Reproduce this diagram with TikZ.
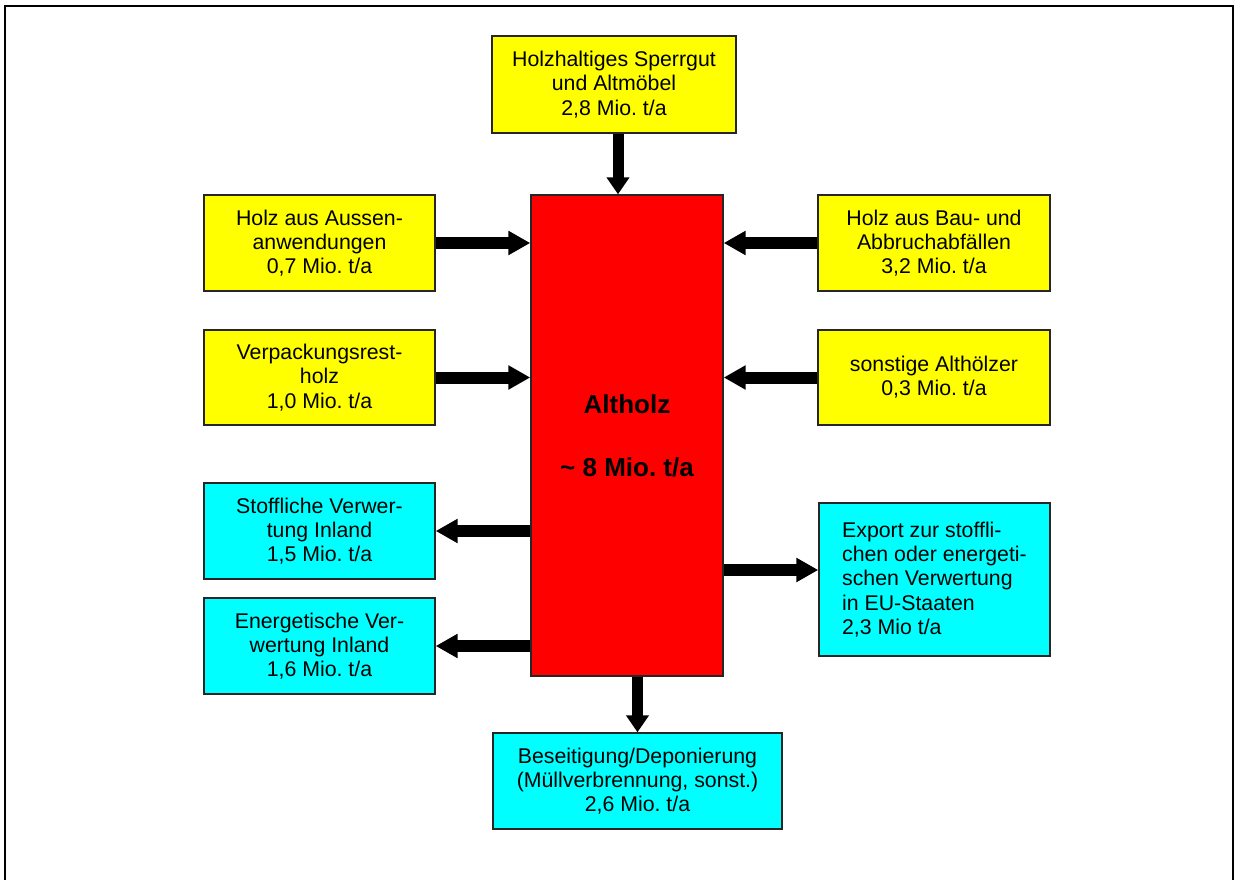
\documentclass[tikz,border=0pt]{standalone}
\usepackage{fontspec}
\setmainfont[Ligatures={NoCommon}]{Liberation Sans}
\frenchspacing
\usetikzlibrary{arrows.meta,calc}
\definecolor{boxyellow}{RGB}{255,255,0}
\definecolor{boxcyan}{RGB}{0,255,255}
\definecolor{boxred}{RGB}{255,0,0}
\tikzset{
  box/.style={draw=black!85, line width=1.4pt, inner sep=0pt, align=center,
    font=\fontsize{21.3}{24.2}\selectfont},
  inbox/.style={box, fill=boxyellow},
  outbox/.style={box, fill=boxcyan},
  flow/.style={line width=12pt, -{Triangle[length=22pt,width=23pt]}},
  flowv/.style={line width=11pt, -{Triangle[length=17pt,width=22pt]}}
}
\begin{document}
\begin{tikzpicture}[x=1pt,y=-1pt]
\useasboundingbox (0,0) rectangle (1235,880);
% outer frame (bottom edge outside the picture)
\draw[line width=2pt] (5,890) -- (5,6) -- (1233,6) -- (1233,890);

\node[box, fill=boxred, minimum width=192, minimum height=481,
      font=\fontsize{26}{31.5}\selectfont\bfseries] (red) at (627,435.5)
      {Altholz\\[31.5pt]\textasciitilde{} 8 Mio. t/a};

\node[inbox, minimum width=244, minimum height=97] (top) at (614,84.5)
  {Holzhaltiges Sperrgut\\und Altmöbel\\2,8 Mio. t/a};
\node[inbox, minimum width=231, minimum height=96] (l1) at (319.5,243)
  {Holz aus Aussen-\\anwendungen\\0,7 Mio. t/a};
\node[inbox, minimum width=231, minimum height=95] (l2) at (319.5,377.5)
  {Verpackungsrest-\\holz\\1,0 Mio. t/a};
\node[inbox, minimum width=232, minimum height=96] (r1) at (934,243)
  {Holz aus Bau- und\\Abbruchabfällen\\3,2 Mio. t/a};
\node[inbox, minimum width=232, minimum height=95] (r2) at (934,377.5)
  {sonstige Althölzer\\0,3 Mio. t/a};

\node[outbox, minimum width=231, minimum height=96] (c1) at (319.5,531)
  {Stoffliche Verwer-\\tung Inland\\1,5 Mio. t/a};
\node[outbox, minimum width=231, minimum height=96] (c2) at (319.5,646)
  {Energetische Ver-\\wertung Inland\\1,6 Mio. t/a};
\node[outbox, minimum width=231, minimum height=153, align=left] (rc) at (934.5,579.5)
  {Export zur stoffli-\\chen oder energeti-\\schen Verwertung\\in EU-Staaten\\2,3 Mio t/a};
\node[outbox, minimum width=289, minimum height=96] (bot) at (637.5,781)
  {Beseitigung/Deponierung\\(Müllverbrennung, sonst.)\\2,6 Mio. t/a};

\coordinate (topout) at ($(top.south)+(4,0)$);
\coordinate (rcin) at (rc.west |- 0,570);

% inputs
\draw[flowv] (topout) -- (topout |- red.north);
\draw[flow] (l1.east) -- (l1.east -| red.west);
\draw[flow] (l2.east) -- (l2.east -| red.west);
\draw[flow] (r1.west) -- (r1.west -| red.east);
\draw[flow] (r2.west) -- (r2.west -| red.east);
% outputs
\draw[flow] (c1.east -| red.west) -- (c1.east);
\draw[flow] (c2.east -| red.west) -- (c2.east);
\draw[flow] (rcin -| red.east) -- (rcin);
\draw[flowv] (bot.north |- red.south) -- (bot.north);
\end{tikzpicture}
\end{document}
